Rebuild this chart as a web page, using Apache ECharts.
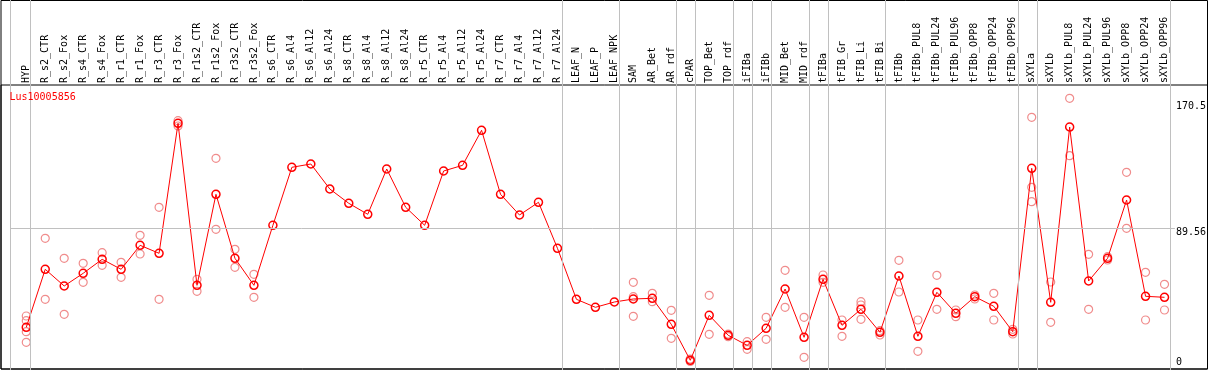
<!DOCTYPE html>
<html>
<head>
<meta charset="utf-8">
<script src="https://cdn.jsdelivr.net/npm/echarts@6/dist/echarts.min.js"></script>
<style>html,body{margin:0;padding:0;background:#fff;}#c{width:1209px;height:370px;}</style>
</head>
<body>
<div id="c"></div>
<script>
const geneName = 'Lus10005856';
const categories = ['HYP','R_s2_CTR','R_s2_Fox','R_s4_CTR','R_s4_Fox','R_r1_CTR','R_r1_Fox','R_r3_CTR','R_r3_Fox','R_r1s2_CTR','R_r1s2_Fox','R_r3s2_CTR','R_r3s2_Fox','R_s6_CTR','R_s6_Al4','R_s6_Al12','R_s6_Al24','R_s8_CTR','R_s8_Al4','R_s8_Al12','R_s8_Al24','R_r5_CTR','R_r5_Al4','R_r5_Al12','R_r5_Al24','R_r7_CTR','R_r7_Al4','R_r7_Al12','R_r7_Al24','LEAF_N','LEAF_P','LEAF_NPK','SAM','AR_Bet','AR_rdf','cPAR','TOP_Bet','TOP_rdf','iFIBa','iFIBb','MID_Bet','MID_rdf','tFIBa','tFIB_Gr','tFIB_Li','tFIB_Bi','tFIBb','tFIBb_PUL8','tFIBb_PUL24','tFIBb_PUL96','tFIBb_OPP8','tFIBb_OPP24','tFIBb_OPP96','sXYLa','sXYLb','sXYLb_PUL8','sXYLb_PUL24','sXYLb_PUL96','sXYLb_OPP8','sXYLb_OPP24','sXYLb_OPP96'];
const meanValues = [23.19,61.96,50.80,59.28,68.64,61.96,78.00,72.65,159.54,51.26,112.08,69.31,51.26,91.36,130.13,132.34,115.63,106.07,98.72,128.99,103.39,91.36,127.66,131.47,154.86,112.08,98.25,106.74,75.99,41.91,36.56,40.10,42.11,42.57,25.20,1.14,31.21,17.85,11.16,22.52,48.79,16.51,55.27,24.53,35.22,19.85,57.48,17.18,46.58,32.55,43.64,37.23,20.25,129.46,39.90,157.06,54.14,69.31,108.27,43.91,43.24];
const replicateValues = [
  [30.74,27.60,20.25,13.17],[82.68,41.91],[69.31,31.88],[65.97,53.27],[73.05,64.63],[66.64,56.61],[84.68,72.18],[103.39,41.91],[161.28,157.73],[55.27,47.25],[136.15,88.69],[75.32,63.29],[58.62,43.24],
  [],[],[],[],[],[],[],[],[],[],[],[],[],[],[],[],[],[],[],
  [53.27,43.64,30.54],[45.92,40.30],[34.55,15.84],[2.0,0.4],[44.58,18.51],[18.71,16.91],[13.57,8.49],[29.88,15.17],[61.29,36.56],[29.88,3.14],[58.15,53.27],[28.07,17.18],[40.30,38.10,28.54],[20.92,18.05],[67.97,46.79],[28.07,7.15],[57.95,35.22],[34.75,30.28],[44.78,42.11],[45.92,28.07],[21.86,18.71],
  [163.55,116.76,107.14],[53.47,26.53],[176.25,137.88],[71.98,35.22],[70.38,68.17],[126.79,89.36],[59.95,28.07],[51.93,34.75]
];
const groupEnds = ['HYP','R_r7_Al24','LEAF_NPK','AR_rdf','cPAR','TOP_rdf','iFIBa','iFIBb','MID_rdf','tFIBa','tFIB_Bi','tFIBb_OPP96','sXYLa','sXYLb_OPP96'];
const yTickValues = [0, 89.56, 170.5];
const refLineValue = 89.56;

const FONT = 'DejaVu Sans Mono';
const X_MIN = -0.821, X_MAX = 60.547;
const Y_MIN = -4.678, Y_MAX = 185.14;
const SEP_OFFSET = 0.225;
const MARK = 'path://M5,1A4,4,0,1,1,4.99,1Z';

const meanData = meanValues.map((v, i) => [i, v]);
const repData = [];
replicateValues.forEach((arr, i) => arr.forEach(v => repData.push([i, v])));
const sepData = [{xAxis: X_MIN}].concat(groupEnds.map(n => ({xAxis: categories.indexOf(n) + SEP_OFFSET})));

const chart = echarts.init(document.getElementById('c'), null, {renderer: 'canvas'});
chart.setOption({
  animation: false,
  backgroundColor: '#fff',
  title: {
    text: geneName, left: 9.5, top: 92, padding: 0,
    textStyle: {color: '#ff0000', fontSize: 10, fontFamily: FONT, fontWeight: 'normal'}
  },
  grid: [
    {left: 10.7, right: 32.3, top: 85, bottom: 1, show: false},
    {left: 10.7, right: 32.3, top: 0, bottom: 0, show: false},
    {left: 1, right: 1.5, top: 0.5, bottom: 1, show: true, borderColor: '#000', borderWidth: 1, backgroundColor: 'transparent'},
    {left: 1, right: 1.5, top: 85, bottom: 1, show: true, borderColor: '#000', borderWidth: 1, backgroundColor: 'transparent'}
  ],
  xAxis: [
    {
      gridIndex: 0, type: 'value', position: 'top', min: X_MIN, max: X_MAX,
      axisLine: {show: false}, axisTick: {show: false}, splitLine: {show: false},
      axisLabel: {
        customValues: categories.map((c, i) => i),
        formatter: v => categories[Math.round(v)] || '',
        rotate: 90, margin: 2, color: '#000', fontSize: 10, fontFamily: FONT
      }
    },
    {gridIndex: 1, type: 'value', min: X_MIN, max: X_MAX, show: false},
    {gridIndex: 2, type: 'value', min: 0, max: 1, show: false},
    {gridIndex: 3, type: 'value', min: 0, max: 1, show: false}
  ],
  yAxis: [
    {
      gridIndex: 0, type: 'value', position: 'right', min: Y_MIN, max: Y_MAX,
      axisLine: {show: false}, axisTick: {show: false}, splitLine: {show: false},
      axisLabel: {
        customValues: yTickValues,
        formatter: v => (v === refLineValue ? '{s|' + v + '}' : String(v)),
        margin: 1, color: '#000', fontSize: 10, fontFamily: FONT, align: 'left',
        rich: {s: {fontSize: 10, fontFamily: FONT, color: '#000', padding: [8, 0, 0, 0]}}
      }
    },
    {gridIndex: 1, type: 'value', min: 0, max: 1, show: false},
    {gridIndex: 2, type: 'value', min: 0, max: 1, show: false},
    {gridIndex: 3, type: 'value', min: 0, max: 1, show: false}
  ],
  series: [
    {
      type: 'line', xAxisIndex: 1, yAxisIndex: 1, data: [], silent: true, z: 1,
      markLine: {
        silent: true, symbol: 'none', label: {show: false}, animation: false,
        lineStyle: {color: '#c0c0c0', width: 1, type: 'solid'},
        data: sepData
      }
    },
    {
      type: 'line', xAxisIndex: 0, yAxisIndex: 0, data: [], silent: true, z: 1,
      markLine: {
        silent: true, symbol: 'none', label: {show: false}, animation: false,
        lineStyle: {color: '#c0c0c0', width: 1, type: 'solid'},
        data: [{yAxis: refLineValue}]
      }
    },
    {
      type: 'scatter', xAxisIndex: 0, yAxisIndex: 0, data: repData, silent: true, z: 3,
      symbol: MARK, symbolSize: 8,
      itemStyle: {color: 'rgba(0,0,0,0)', borderColor: '#f08c8c', borderWidth: 1.2, opacity: 1}
    },
    {
      type: 'line', xAxisIndex: 0, yAxisIndex: 0, data: meanData, silent: true, z: 4,
      symbol: MARK, symbolSize: 8, showAllSymbol: true,
      lineStyle: {color: '#ff0000', width: 1},
      itemStyle: {color: 'rgba(0,0,0,0)', borderColor: '#ff0000', borderWidth: 1.5}
    }
  ]
});
</script>
</body>
</html>
